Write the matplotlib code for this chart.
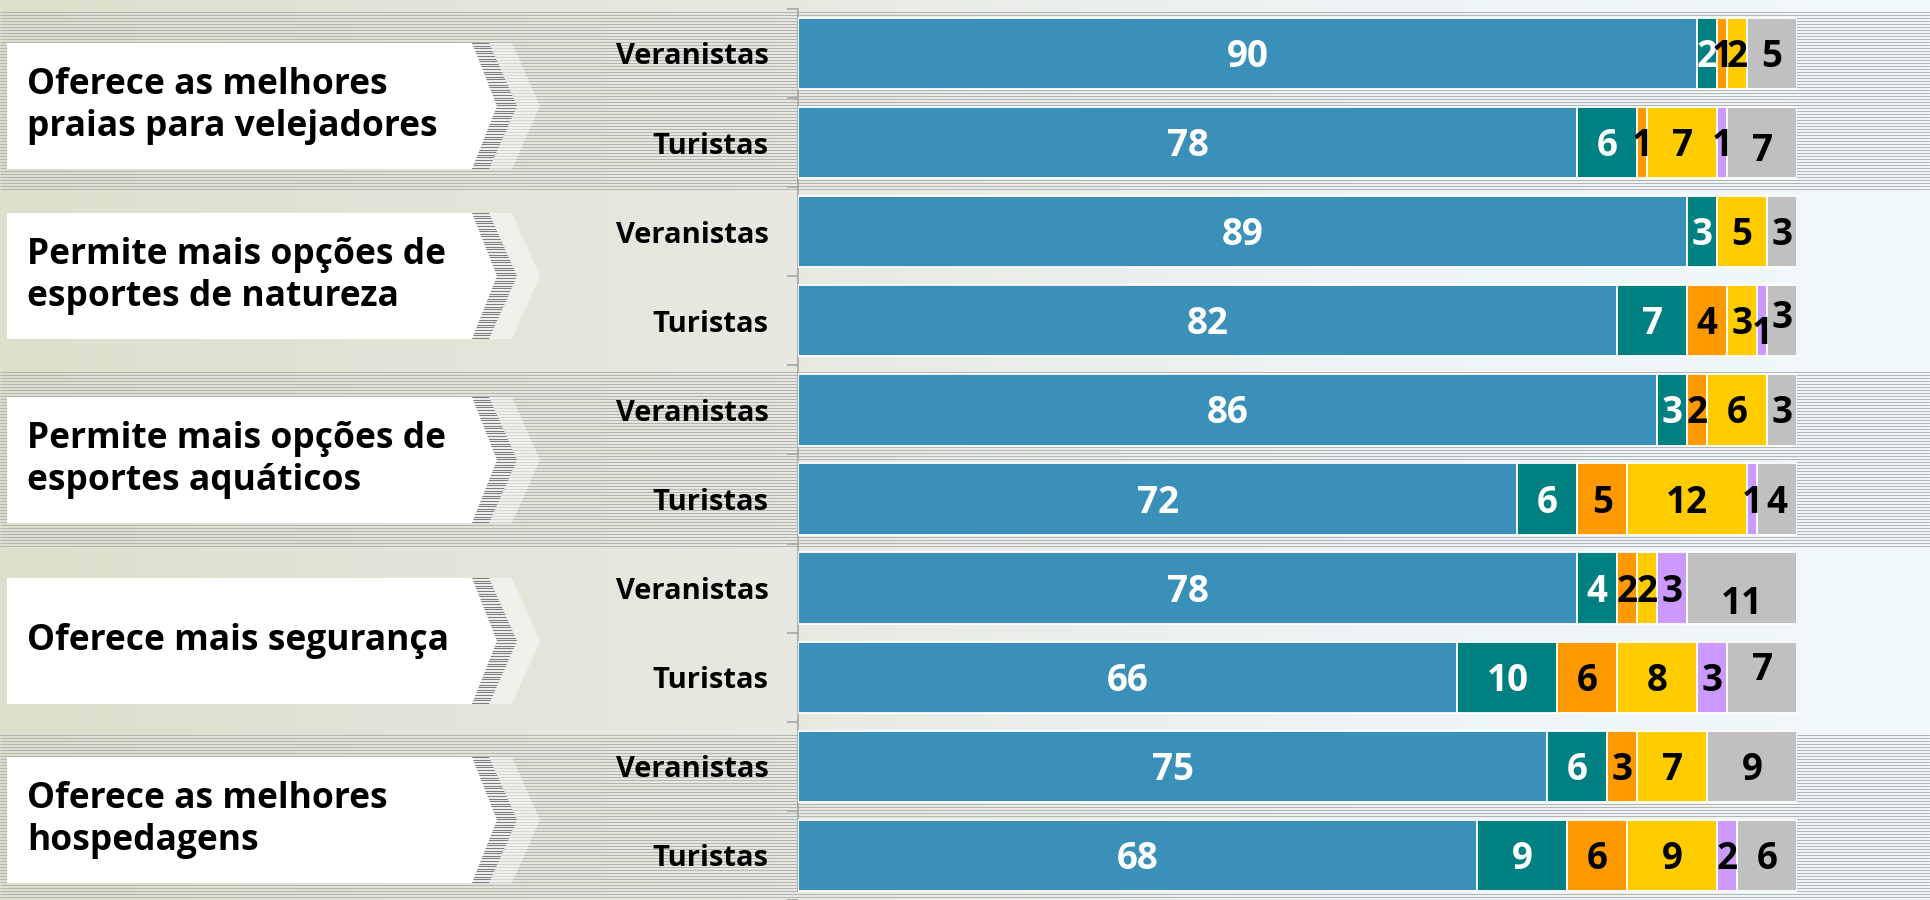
import numpy as np
import matplotlib
matplotlib.use("Agg")
import matplotlib.pyplot as plt
from matplotlib.patches import Polygon
from matplotlib.colors import LinearSegmentedColormap

# ---------------- data ----------------
categories = [
    "Oferece as melhores\npraias para velejadores",
    "Permite mais opções de\nesportes de natureza",
    "Permite mais opções de\nesportes aquáticos",
    "Oferece mais segurança",
    "Oferece as melhores\nhospedagens",
]
groups = ["Veranistas", "Turistas"]
row_labels = groups * len(categories)

s_blue = [90, 78, 89, 82, 86, 72, 78, 66, 75, 68]
s_teal = [2, 6, 3, 7, 3, 6, 4, 10, 6, 9]
s_orange = [1, 1, 0, 4, 2, 5, 2, 6, 3, 6]
s_yellow = [2, 7, 5, 3, 6, 12, 2, 8, 7, 9]
s_purple = [0, 1, 0, 1, 0, 1, 3, 3, 0, 2]
s_gray = [5, 7, 3, 3, 3, 4, 11, 7, 9, 6]

series = [s_blue, s_teal, s_orange, s_yellow, s_purple, s_gray]
colors = ["#3A90B8", "#008080", "#FF9900", "#FFCC00", "#CC99FF", "#C0C0C0"]
text_colors = ["white", "white", "black", "black", "black", "black"]

# small vertical nudges of some value labels, as in the original slide (row, series): dy
label_nudge = {(1, 5): 0.05, (3, 4): 0.11, (3, 5): -0.07, (6, 5): 0.14, (7, 5): -0.12}

FONT = ["Open Sans", "DejaVu Sans"]
plt.rcParams["font.family"] = FONT

W, H = 1930, 900
fig = plt.figure(figsize=(W / 100, H / 100), dpi=100)

# ---------------- background (pixel coordinates) ----------------
bg = fig.add_axes([0, 0, 1, 1])
bg.set_xlim(0, W)
bg.set_ylim(H, 0)
bg.axis("off")

cmap = LinearSegmentedColormap.from_list(
    "bgc",
    [(0.0, "#dbe0cc"), (0.2, "#e1e4d6"), (0.42, "#e8eae2"),
     (0.7, "#eef4f5"), (1.0, "#f2f9fc")])
grad = np.linspace(0, 1, 256)[None, :]
bg.imshow(grad, cmap=cmap, extent=(0, W, H, 0), aspect="auto", zorder=0)

# striped bands behind alternate groups
bands = [(12, 190), (372, 547), (735, 900)]
for y0, y1 in bands:
    bg.hlines(np.arange(y0, y1, 3.0), 0, W, colors="#b3b5b5", lw=0.75, zorder=1)

# label boxes with chevrons
row_pitch = 90
first_center = 54
box_h = 126
box_shift = [7, -3, 1, 2, 1]
for g, cat in enumerate(categories):
    mid = first_center + row_pitch * (2 * g) + row_pitch / 2 + box_shift[g]
    top, bot = mid - box_h / 2, mid + box_h / 2
    box = Polygon([(7, top), (474, top), (497, mid), (474, bot), (7, bot)],
                  closed=True, facecolor="white", edgecolor="none", zorder=2)
    bg.add_patch(box)
    shade = Polygon([(489, top), (512, top), (540, mid), (512, bot), (489, bot), (517, mid)],
                    closed=True, facecolor="white", alpha=0.45, edgecolor="none", zorder=2)
    bg.add_patch(shade)
    chev = Polygon([(472, top), (489, top), (517, mid), (489, bot), (472, bot), (497, mid)],
                   closed=True, facecolor="#f4f4f4", edgecolor="none", zorder=3)
    bg.add_patch(chev)
    lines = bg.hlines(np.arange(top, bot, 2.6), 460, 530, colors="#7d7d7d",
                      lw=0.8, zorder=4)
    lines.set_clip_path(chev)
    bg.text(27, mid, cat, ha="left", va="center", fontsize=25.5,
            fontweight="bold", color="black", linespacing=1.2, zorder=5)

# ---------------- bars ----------------
ax = fig.add_axes([798 / W, 0, 999 / W, 1])
ax.patch.set_visible(False)
n = len(row_labels)
y = np.arange(n)
ax.set_xlim(0, 100)
ax.set_ylim((H - first_center) / row_pitch, -first_center / row_pitch)

left = np.zeros(n)
for k, (vals, col, tcol) in enumerate(zip(series, colors, text_colors)):
    vals = np.array(vals, dtype=float)
    ax.barh(y, vals, left=left, height=0.8, color=col, edgecolor="white",
            linewidth=1.3, zorder=3)
    for i in range(n):
        if vals[i] > 0:
            ax.text(left[i] + vals[i] / 2, y[i] + 0.04 + label_nudge.get((i, k), 0.0),
                    f"{int(vals[i])}", ha="center", va="center", color=tcol,
                    fontsize=26.5, fontweight="bold", zorder=4)
    left += vals

for s in ["top", "right", "bottom"]:
    ax.spines[s].set_visible(False)
ax.spines["left"].set_color("#a6a6a6")
ax.spines["left"].set_linewidth(1.2)
ax.spines["left"].set_bounds(-0.5, (H - first_center) / row_pitch)
ax.set_xticks([])
ax.set_yticks(np.arange(-0.5, n, 1.0))
ax.set_yticklabels([])
ax.tick_params(axis="y", which="major", length=8, width=1.2, color="#a6a6a6")
ax.set_yticks(y, minor=True)
ax.set_yticklabels(row_labels, minor=True)
ax.tick_params(axis="y", which="minor", length=0, pad=21, labelsize=21)
for lab in ax.get_yticklabels(minor=True):
    lab.set_fontweight("bold")

fig.savefig("out.png", dpi=100)
